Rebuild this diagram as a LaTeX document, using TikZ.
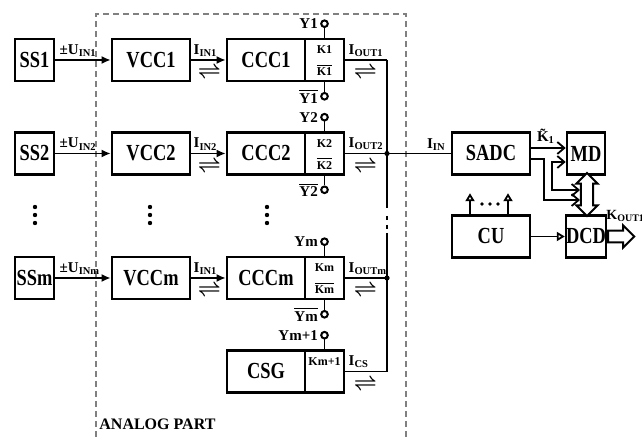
\documentclass[tikz,border=0pt]{standalone}
\usepackage{fontspec}
\setmainfont{Liberation Serif}
\newfontfamily\blkfont{Liberation Serif}[FakeStretch=0.8]
\usetikzlibrary{arrows.meta,positioning,calc,shapes.arrows}

\newcommand{\sbs}[1]{\textsubscript{#1}}
\newcommand{\nt}[1]{$\overline{\mbox{#1}}$}

\begin{document}
\begin{tikzpicture}[x=0.5pt, y=-0.5pt,
    font=\bfseries,
    blk/.style={draw, line width=1.3pt, inner sep=0pt, minimum height=21pt,
      font=\blkfont\bfseries\fontsize{11.5}{11.5}\selectfont},
    wire/.style={line width=0.9pt},
    pinc/.style={draw, circle, line width=1pt, fill=white, inner sep=0pt, minimum size=3.3pt},
    klab/.style={inner sep=0pt, font=\bfseries\fontsize{6}{6}\selectfont},
    ylab/.style={inner sep=1pt, font=\bfseries\fontsize{7.5}{7.5}\selectfont},
    slab/.style={inner sep=0pt, anchor=south west, font=\bfseries\fontsize{7.5}{7.5}\selectfont},
    flow/.style={inner sep=0pt, font=\boldmath\fontsize{10}{10}\selectfont},
    opentip/.style={-{Triangle[open, length=4pt, width=4.5pt]}},
    barb/.style={-{Straight Barb[length=3.5pt, width=6pt]}},
  ]
  \useasboundingbox (0,0) rectangle (642,437);

  % analog part frame
  \draw[gray, line width=0.6pt, dash pattern=on 3pt off 2pt] (96,437) -- (96,14) -- (406,14) -- (406,437);
  \node[anchor=west, inner sep=0pt, font=\bfseries\fontsize{8}{8}\selectfont] (analog) at (99,424) {ANALOG PART};

  % channels
  \foreach \rw/\yy/\uin/\iin in {1/60/IN1/IN1, 2/153.5/IN2/IN2, m/278/INm/IN1}{
    \node[blk, minimum width=19.5pt] (ss\rw) at (34.5,\yy) {SS\rw};
    \node[blk, minimum width=39pt] (vcc\rw) at (151,\yy) {VCC\rw};
    \node[blk, minimum width=39pt] (ccc\rw) at (266,\yy) {CCC\rw};
    \node[blk, minimum width=19.5pt] (sw\rw) at (324.5,\yy) {};
    \node[klab] at ($(sw\rw)+(0,-10)$) {K\rw};
    \node[klab] at ($(sw\rw)+(0,10)$) {\nt{K\rw}};
    \node[pinc] (y\rw) at ($(sw\rw.north)+(0,-14)$) {};
    \node[pinc] (yn\rw) at ($(sw\rw.south)+(0,14)$) {};
    \draw[wire] (sw\rw.north) -- (y\rw);
    \draw[wire] (sw\rw.south) -- (yn\rw);
    \node[ylab, left] at (y\rw.west) {Y\rw};
    \node[ylab, left] at (yn\rw.west) {\nt{Y\rw}};
    \coordinate (bus\rw) at (387,\yy);
    \draw[wire, -{Latex[length=4.5pt, width=4pt]}] (ss\rw) -- (vcc\rw);
    \draw[wire, -{Latex[length=4.5pt, width=4pt]}] (vcc\rw) -- (ccc\rw);
    \draw[wire] (sw\rw) -- (bus\rw);
    \node[slab] at ($(ss\rw.east)+(4,-3)$) {±U\sbs{\uin}};
    \node[slab] at ($(vcc\rw.east)+(2,-3)$) {I\sbs{\iin}};
    \node[slab] at ($(sw\rw.east)+(3,-3)$) {I\sbs{OUT\rw}};
    \node[flow] at ($(vcc\rw.east)+(18,13)$) {$\rightleftharpoons$};
    \node[flow] at ($(sw\rw.east)+(20,13)$) {$\rightleftharpoons$};
  }

  % vertical dots
  \foreach \xx in {35,150,267}
    \foreach \yd in {207,215,223}
      \fill (\xx,\yd) circle (1.1pt);

  % current source
  \node[blk, minimum width=39pt] (csg) at (266,371.5) {CSG};
  \node[blk, minimum width=19.5pt] (swcs) at (324.5,371.5) {};
  \node[klab] at ($(swcs)+(0,-10)$) {Km+1};
  \node[pinc] (ycs) at ($(swcs.north)+(0,-14)$) {};
  \draw[wire] (swcs.north) -- (ycs);
  \node[ylab, left] at (ycs.west) {Ym+1};
  \coordinate (buscs) at (387,371.5);
  \node[slab] at ($(swcs.east)+(3,-3)$) {I\sbs{CS}};
  \node[flow] at ($(swcs.east)+(20,13)$) {$\rightleftharpoons$};

  % common bus
  \coordinate (gapa) at (387,208);
  \coordinate (gapb) at (387,233);
  \draw[wire] (bus1) -- (gapa);
  \draw[wire, dash pattern=on 0pt off 4pt on 2pt off 2.5pt on 2pt off 2pt] (gapa) -- (gapb);
  \draw[wire] (gapb) -- (buscs) -- (swcs);
  \fill (bus2) circle (1.3pt);
  \fill (busm) circle (1.3pt);

  % digital part
  \node[blk, minimum width=39pt] (sadc) at (491,153.5) {SADC};
  \node[blk, minimum width=19pt] (md) at (586,153.5) {MD};
  \node[blk, minimum width=39pt] (cu) at (491,236.5) {CU};
  \node[blk, minimum width=19pt] (dcd) at (586,236.5) {DCD};
  \draw[wire] (bus2) -- (sadc);
  \node[slab] at ($(sadc.west)+(-24,-3)$) {I\sbs{IN}};

  \node[draw, line width=1pt, fill=white, double arrow, shape border rotate=90,
    inner sep=2.6pt, minimum width=0pt, minimum height=21.5pt,
    double arrow head extend=2.2pt] (mdlink) at (587,194.5) {};
  \coordinate (lk1) at (580,200);
  \coordinate (lk2) at (580,190);

  \draw[wire, barb] ($(sadc.east)+(0,-5.5)$) -- ($(md.west)+(0,-5.5)$);
  \node[slab, anchor=south] (ktil) at (546,144) {\~{K}\sbs{1}};
  \draw[wire, barb] ($(sadc.east)+(0,5.5)$) -- ++(13,0) |- (lk1);
  \draw[wire, {Straight Barb[length=3.5pt, width=6pt]}-{Straight Barb[length=3.5pt, width=6pt]}]
    ($(md.west)+(0,8.5)$) -- ++(-14,0) |- (lk2);

  \draw[wire, opentip] ($(cu.north)+(-21,0)$) -- ++(0,-21);
  \draw[wire, opentip] ($(cu.north)+(17,0)$) -- ++(0,-21);
  \foreach \xx in {482,490,498}
    \fill (\xx,204) circle (0.9pt);
  \draw[wire, opentip] (cu) -- (dcd);

  \node[draw, line width=1pt, single arrow, inner sep=2.4pt, minimum width=0pt,
    minimum height=13pt, single arrow head extend=2.6pt, anchor=tail] (kout) at (dcd.east) {};
  \node[slab, font=\bfseries\fontsize{7}{7}\selectfont] (koutlab) at (606,222) {K\sbs{OUT1}};
\end{tikzpicture}
\end{document}
